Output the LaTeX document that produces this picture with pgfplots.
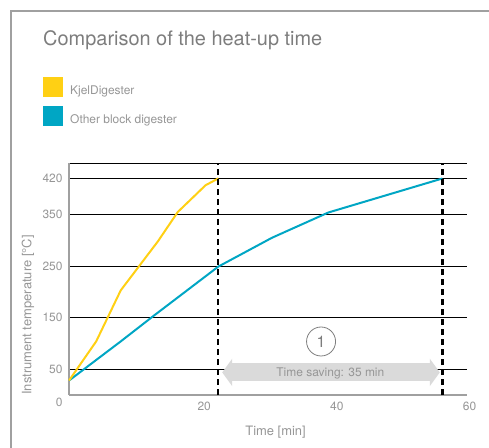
\documentclass[border=0pt]{standalone}
\usepackage{fontspec}
\setmainfont{TeX Gyre Heros}
\usepackage{xcolor}
\usepackage{tikz}
\usepackage{pgfplots}
\pgfplotsset{compat=1.18}
\usetikzlibrary{arrows.meta}
\definecolor{kjelcol}{RGB}{255,208,20}
\definecolor{othercol}{RGB}{0,166,196}
\definecolor{labelgray}{RGB}{150,150,150}
\definecolor{titlegray}{RGB}{125,125,125}
\definecolor{framegray}{RGB}{160,160,160}
\definecolor{arrowgray}{RGB}{218,218,218}

\begin{document}
\begin{tikzpicture}
\useasboundingbox (0,0) rectangle (489bp,-448bp);
% outer frame
\draw[framegray, line width=1.5bp] (11bp,-448bp) -- (11bp,-11bp) -- (489bp,-11bp);
% title
\node[anchor=base west, inner sep=0pt, text=titlegray, font=\fontsize{20}{24}\selectfont]
  at (43bp,-45bp) {Comparison of the heat-up time};
% legend
\fill[kjelcol] (43bp,-77bp) rectangle (63bp,-97bp);
\node[anchor=base west, inner sep=0pt, text=labelgray, font=\fontsize{12}{14}\selectfont]
  at (70bp,-94bp) {KjelDigester};
\fill[othercol] (43bp,-106bp) rectangle (63bp,-126bp);
\node[anchor=base west, inner sep=0pt, text=labelgray, font=\fontsize{12}{14}\selectfont]
  at (70bp,-123bp) {Other block digester};

\begin{axis}[
  at={(69bp,-395bp)}, anchor=south west,
  scale only axis,
  width=398bp, height=232bp,
  xmin=0, xmax=60, ymin=0, ymax=450,
  axis x line=bottom, axis y line=left,
  axis line style={-, framegray, line width=1.2bp},
  xtick={20,40,60},
  ytick={50,150,250,350,420,450},
  yticklabels={50,150,250,350,420,},
  extra y ticks={0},
  extra y tick style={yticklabel style={yshift=-7bp}, grid=none},
  major tick length=0pt,
  ymajorgrids, xmajorgrids=false,
  major grid style={black, line width=0.8bp},
  /pgf/number format/assume math mode=true,
  ticklabel style={text=labelgray, font=\fontsize{12}{14}\selectfont},
  xticklabel style={xshift=2.5bp, yshift=-3bp},
  yticklabel style={xshift=-3bp},
  xlabel={Time [min]},
  ylabel={Instrument temperature [°C]},
  label style={text=labelgray, font=\fontsize{13}{15}\selectfont},
  xlabel style={at={(axis description cs:0.519,-0.159)}, anchor=center},
  ylabel style={at={(axis description cs:-0.103,0.345)}, anchor=center},
  clip=false,
]
  % time saving arrow
  \draw[arrowgray, line width=18bp, {Triangle[length=10bp, width=27bp]}-{Triangle[length=10bp, width=27bp]}]
    (axis cs:23.1,43.8) -- (axis cs:55.9,43.8);
  \node[text=labelgray, font=\fontsize{12}{14}\selectfont] at (axis cs:39.4,42) {Time saving: 35 min};
  \draw[titlegray, line width=0.8bp] (axis cs:38.0,103.8) circle[radius=14.5bp];
  \node[text=titlegray, font=\fontsize{16}{18}\selectfont] at (axis cs:38.0,103.8) {1};

  \addplot[othercol, line width=2bp] coordinates {
    (0,28) (7.8,104) (12.6,152) (22.5,249) (30.6,305) (39.1,354) (56.3,420)};
  \addplot[kjelcol, line width=2bp] coordinates {
    (0,28) (4.1,104) (7.8,203) (13.4,298) (16.4,355) (20.6,407) (22.5,420)};

  \addplot[black, line width=2.4bp, dash pattern=on 6bp off 4bp] coordinates {(22.5,0) (22.5,450)};
  \addplot[black, line width=2.4bp, dash pattern=on 6bp off 4bp] coordinates {(56.3,0) (56.3,450)};
\end{axis}
\end{tikzpicture}
\end{document}
